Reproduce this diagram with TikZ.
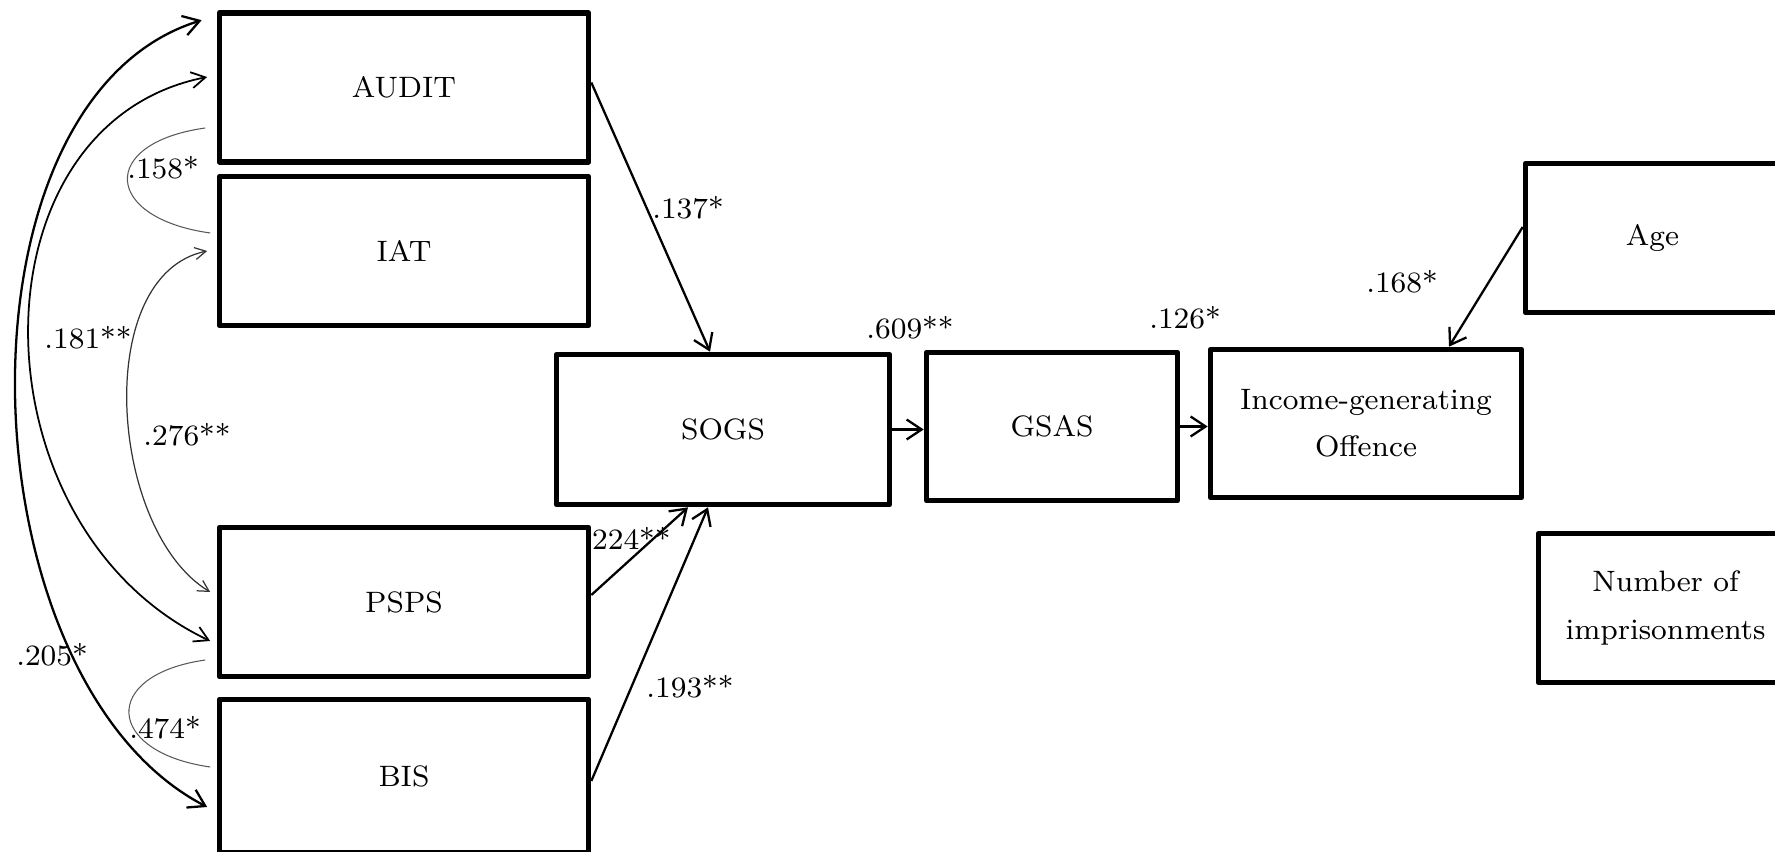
\documentclass[tikz,border=0pt]{standalone}
\usepackage{tikz}
\usetikzlibrary{arrows.meta}
\tikzset{
  varbox/.style={draw=black,line width=1.6pt,line join=round,fill=white,align=center,inner sep=2pt,font=\fontsize{8.4}{13.4}\selectfont},
  leftbox/.style={varbox,minimum width=3.69cm,minimum height=1.49cm},
  arrow/.style={-{Straight Barb[length=1.5mm,width=2mm]},line width=0.65pt},
  cov/.style={line width=#1,{Straight Barb[length=1.4mm,width=1.6mm]}-{Straight Barb[length=1.4mm,width=1.6mm]}},
  covthin/.style={line width=0.3pt,draw=black!65},
  coef/.style={font=\fontsize{8.4}{10}\selectfont,inner sep=1pt},
}

\begin{document}
\begin{tikzpicture}[x=1cm,y=1cm]
    \useasboundingbox (0,0) rectangle (17.75,8.51);
    % predictors
    \node[leftbox] (audit) at (4.04,7.635) {AUDIT};
    \node[leftbox] (iat) at (4.04,6.00) {IAT};
    \node[leftbox] (psps) at (4.04,2.49) {PSPS};
    \node[leftbox,minimum height=1.53cm] (bis) at (4.04,0.75) {BIS};
    % path
    \node[varbox,minimum width=3.33cm,minimum height=1.50cm] (sogs) at (7.23,4.215) {SOGS};
    \node[varbox,minimum width=2.51cm,minimum height=1.48cm] (gsas) at (10.52,4.245) {GSAS};
    \node[varbox,minimum width=3.11cm,minimum height=1.48cm] (igo) at (13.66,4.275) {Income-generating\\Offence};
    \node[varbox,minimum width=2.54cm,minimum height=1.49cm] (age) at (16.525,6.13) {Age};
    \node[varbox,minimum width=2.54cm,minimum height=1.49cm] (noi) at (16.655,2.43) {Number of\\imprisonments};

    \draw[arrow] ([yshift=0.5mm]audit.east) -- ([xshift=-1.3mm]sogs.north);
    \draw[arrow] ([yshift=0.7mm]psps.east) -- ([xshift=-3.5mm]sogs.south);
    \draw[arrow] ([yshift=-0.5mm]bis.east) -- ([xshift=-1.5mm]sogs.south);
    \draw[arrow] (sogs.east) -- (sogs.east -| gsas.west);
    \draw[arrow] (gsas.east) -- (gsas.east -| igo.west);
    \draw[arrow] ([yshift=1.1mm]age.west) -- ([xshift=8.3mm]igo.north);

    % correlations
    \draw[cov=0.65pt,{Straight Barb[length=1.6mm,width=2mm]}-{Straight Barb[length=1.6mm,width=2mm]}]
      ([shift={(-1.5mm,-1mm)}]audit.north west) .. controls +(-2.58,-0.80) and +(-2.45,1.27) .. ([shift={(-0.95mm,-3.1mm)}]bis.west);
    \draw[cov=0.5pt] ([shift={(-0.95mm,1.05mm)}]audit.west) .. controls +(-2.40,-0.475) and +(-2.40,1.14) .. ([shift={(-0.65mm,-3.9mm)}]psps.west);
    \draw[covthin] ([shift={(-1.15mm,-4.05mm)}]audit.west) .. controls +(-1.07,-0.15) and +(-1.07,0.15) .. ([shift={(-0.65mm,1.8mm)}]iat.west);
    \draw[cov=0.35pt,draw=black!80,{Straight Barb[length=1.1mm,width=1.2mm]}-{Straight Barb[length=1.1mm,width=1.2mm]}]
      ([xshift=-0.95mm]iat.west) .. controls +(-1.16,-0.24) and +(-1.01,0.61) .. ([shift={(-0.65mm,1mm)}]psps.west);
    \draw[covthin] ([shift={(-1.15mm,-5.8mm)}]psps.west) .. controls +(-1.05,-0.15) and +(-1.05,0.15) .. ([shift={(-0.65mm,0.9mm)}]bis.west);

    % coefficients
    \node[coef] (c137) at (6.88,6.43) {.137*};
    \node[coef] (c224) at (6.27,3.13) {.224**};
    \node[coef] (c193) at (6.90,1.64) {.193**};
    \node[coef] (c609) at (9.10,5.23) {.609**};
    \node[coef] (c126) at (11.85,5.33) {.126*};
    \node[coef] (c168) at (14.02,5.69) {.168*};
    \node[coef] (c158) at (1.63,6.83) {.158*};
    \node[coef] (c181) at (0.88,5.13) {.181**};
    \node[coef] (c276) at (1.87,4.16) {.276**};
    \node[coef] (c205) at (0.52,1.96) {.205*};
    \node[coef] (c474) at (1.65,1.23) {.474*};
\end{tikzpicture}
\end{document}
